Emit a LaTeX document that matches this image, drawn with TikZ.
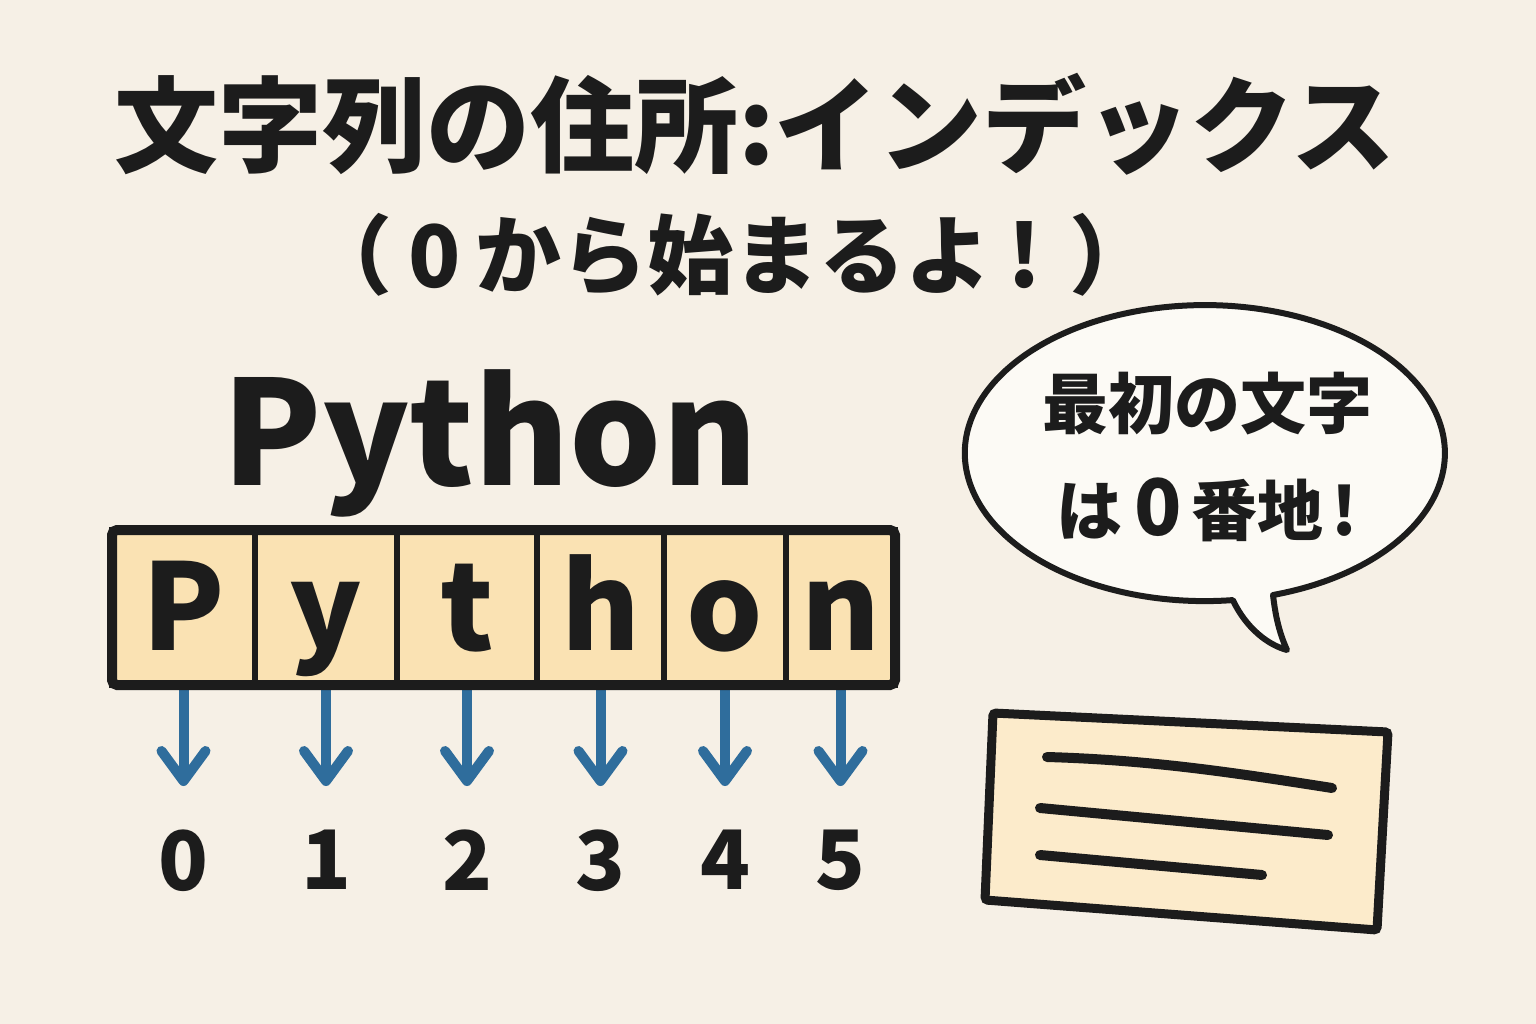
\documentclass[tikz,border=0pt]{standalone}
\usepackage{fontspec}
\setmainfont{Noto Sans CJK JP}
\usepackage{tikz}
\usetikzlibrary{arrows.meta,positioning}
\usepackage{xcolor}
\definecolor{paper}{HTML}{F6F0E6}
\definecolor{cellfill}{HTML}{FAE2B3}
\definecolor{cardfill}{HTML}{FCEBCB}
\definecolor{bubblefill}{HTML}{FCFAF5}
\definecolor{idxblue}{HTML}{2F6D9C}
\definecolor{ink}{HTML}{1C1C1C}

\begin{document}
\begin{tikzpicture}[
x=1pt,y=-1pt,
title/.style={inner sep=0pt,text=ink,font=\fontsize{104}{104}\selectfont\bfseries},
subtitle/.style={inner sep=0pt,text=ink,font=\fontsize{86}{86}\selectfont\bfseries},
word/.style={inner sep=0pt,text=ink,font=\fontsize{145}{145}\selectfont\bfseries},
cell/.style={rectangle,draw=ink,fill=cellfill,line width=6pt,outer sep=0pt,inner sep=0pt,minimum height=155pt,text height=95pt,text depth=10pt,text=ink,font=\fontsize{120}{120}\selectfont\bfseries},
num/.style={inner sep=0pt,text=ink,font=\fontsize{82}{82}\selectfont\bfseries},
arr/.style={-{Straight Barb[length=30pt,width=44pt,round]},line width=10pt,idxblue,shorten >=44pt},
frame/.style={draw=ink,line width=10pt,rounded corners=5pt},
bubble/.style={draw=ink,fill=bubblefill,line width=6pt,line join=round},
bubtext/.style={align=center,inner sep=0pt,text=ink,font=\fontsize{66}{107}\selectfont\bfseries},
card/.style={draw=ink,fill=cardfill,line width=9pt,rounded corners=3pt},
cardline/.style={draw=ink,line width=10pt,line cap=round}
]
\fill[paper] (0,0) rectangle (1536,1024);

\node[title] (title) at (755,124) {文字列の住所:インデックス};
\node[subtitle] (sub) at (731,255) {（\hspace{16pt}0\hspace{14pt}から始まるよ\hspace{16pt}!\hspace{28pt}）};
\node[word,anchor=base] (word) at (490,485) {Python};

\node[cell,minimum width=143pt] (c0) at (183.5,607.5) {P};
\node[cell,minimum width=142pt,right=0pt of c0] (c1) {y};
\node[cell,minimum width=140pt,right=0pt of c1] (c2) {t};
\node[cell,minimum width=127pt,right=0pt of c2] (c3) {h};
\node[cell,minimum width=122pt,right=0pt of c3] (c4) {o};
\node[cell,minimum width=109pt,right=0pt of c4] (c5) {n};

\node[num,below=145pt of c0] (n0) {0};
\node[num,below=145pt of c1] (n1) {1};
\node[num,below=145pt of c2] (n2) {2};
\node[num,below=145pt of c3] (n3) {3};
\node[num,below=145pt of c4] (n4) {4};
\node[num,below=145pt of c5] (n5) {5};

\draw[arr] (c0.south) -- (n0.north);
\draw[arr] (c1.south) -- (n1.north);
\draw[arr] (c2.south) -- (n2.north);
\draw[arr] (c3.south) -- (n3.north);
\draw[arr] (c4.south) -- (n4.north);
\draw[arr] (c5.south) -- (n5.north);
\draw[frame] (c0.north west) rectangle (c5.south east);

\draw[bubble] (1273,595) arc[start angle=73.5,end angle=-276.7,x radius=240,y radius=148]
  .. controls (1246,628) and (1268,645) .. (1287,650)
  .. controls (1278,630) and (1275,612) .. cycle;
\node[bubtext] (bub) at (1207,457) {最初の文字\\は\hspace{12pt}{\fontsize{78}{78}\selectfont 0}\hspace{10pt}番地\hspace{8pt}!};

\draw[card] (993,713) -- (1388,732) -- (1377,930) -- (985,900) -- cycle;
\draw[cardline] (1047,757) .. controls (1150,760) and (1230,772) .. (1332,788);
\draw[cardline] (1040,808) -- (1328,835);
\draw[cardline] (1040,855) -- (1262,875);
\end{tikzpicture}
\end{document}
